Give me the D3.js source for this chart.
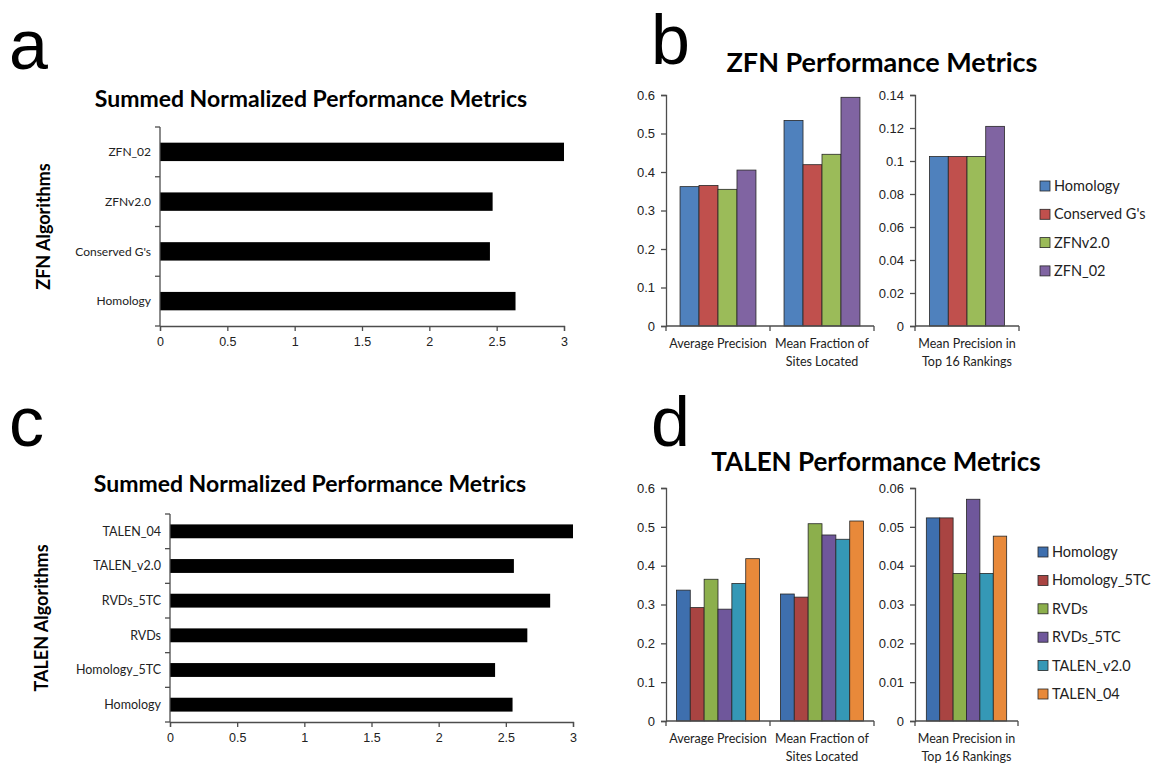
<!DOCTYPE html>
<html>
<head>
<meta charset="utf-8">
<script src="https://cdn.jsdelivr.net/npm/d3@7"></script>
<style>
  body { margin: 0; background: #fff; }
  svg { font-family: Lato, "Open Sans", sans-serif; }
</style>
</head>
<body>
<svg id="fig" width="1158" height="763"></svg>
<script>
// ---- data ----
const zfnAlgorithms = ["Homology", "Conserved G's", "ZFNv2.0", "ZFN_02"];
const zfnSummed = [2.64, 2.45, 2.47, 3.0];

const talenAlgorithms = ["Homology", "Homology_5TC", "RVDs", "RVDs_5TC", "TALEN_v2.0", "TALEN_04"];
const talenSummed = [2.55, 2.42, 2.66, 2.83, 2.56, 3.0];

const summedTicks = [0, 0.5, 1, 1.5, 2, 2.5, 3];

const metricLabels = [["Average Precision"], ["Mean Fraction of", "Sites Located"]];
const top16Label = ["Mean Precision in", "Top 16 Rankings"];

const zfnAvgPrecision = [0.362, 0.365, 0.355, 0.405];
const zfnFractionLocated = [0.534, 0.419, 0.446, 0.594];
const zfnTop16 = [0.1027, 0.1027, 0.1027, 0.121];

const talenAvgPrecision = [0.337, 0.292, 0.365, 0.288, 0.354, 0.418];
const talenFractionLocated = [0.327, 0.319, 0.508, 0.479, 0.468, 0.515];
const talenTop16 = [0.0523, 0.0523, 0.038, 0.0571, 0.038, 0.0476];

const zfnColors = ["#4f81bd", "#c0504d", "#9bbb59", "#8064a2"];
const talenColors = ["#3e6fae", "#a94442", "#8caf4c", "#6f579b", "#3598b6", "#e8893a"];

const svg = d3.select("#fig");
const axisColor = "#4d4d4d";
const fmt = d => +d.toFixed(2);

// panel letters
[["a", 9, 69], ["b", 651, 64], ["c", 9, 446], ["d", 651, 446]].forEach(([t, x, y]) => {
    svg.append("text").attr("x", x).attr("y", y)
        .attr("font-family", "'Liberation Sans', sans-serif")
        .attr("font-size", 70).attr("fill", "#000").text(t);
});

// horizontal summed chart (panels a and c)
function draw_summed(opt) {
    const g = svg.append("g");
    const x = d3.scaleLinear().domain([0, 3]).range([opt.left, opt.right]);
    const y = d3.scaleBand().domain(opt.cats.slice().reverse())
        .range([opt.top, opt.bottom]).paddingInner(opt.pad).paddingOuter(opt.pad / 2);

    g.append("text").attr("x", opt.titleX).attr("y", opt.titleY)
        .attr("text-anchor", "middle").attr("font-size", 23).attr("font-weight", "bold")
        .text("Summed Normalized Performance Metrics");

    g.append("text")
        .attr("transform", `translate(${opt.labelX},${(opt.top + opt.bottom) / 2}) rotate(-90)`)
        .attr("text-anchor", "middle").attr("font-size", 18).attr("font-weight", "bold")
        .text(opt.axisLabel);

    g.selectAll("rect.bar")
        .data(opt.cats.map((c, i) => ({c, v: opt.values[i]})))
        .join("rect").attr("class", "bar")
        .attr("x", x(0)).attr("y", d => y(d.c))
        .attr("width", d => x(d.v) - x(0)).attr("height", y.bandwidth())
        .attr("fill", "#000");

    const xAxis = g.append("g").attr("transform", `translate(0,${opt.bottom})`)
        .call(d3.axisBottom(x).tickValues(summedTicks).tickFormat(fmt).tickSize(5).tickPadding(6));
    xAxis.selectAll("text").attr("font-size", 12.5).attr("fill", "#222");

    // category axis with ticks at the band boundaries
    const yAxis = g.append("g");
    yAxis.append("line").attr("x1", x(0)).attr("x2", x(0))
        .attr("y1", opt.top).attr("y2", opt.bottom);
    yAxis.selectAll("line.tk").data(d3.range(opt.cats.length + 1))
        .join("line").attr("class", "tk")
        .attr("x1", x(0) - 5).attr("x2", x(0))
        .attr("y1", i => opt.top + i * y.step()).attr("y2", i => opt.top + i * y.step());
    yAxis.selectAll("text").data(opt.cats).join("text")
        .attr("x", x(0) - 9).attr("y", d => y(d) + y.bandwidth() / 2)
        .attr("dy", "0.35em").attr("text-anchor", "end")
        .attr("font-size", opt.catFont).attr("fill", "#222").text(d => d);

    g.selectAll(".domain, line").attr("stroke", axisColor).attr("stroke-width", 1.3);
}

// grouped column chart (panels b and d)
function draw_grouped(opt) {
    const g = svg.append("g");
    g.append("text").attr("x", opt.titleX).attr("y", opt.titleY)
        .attr("text-anchor", "middle").attr("font-size", opt.titleSize).attr("font-weight", "bold")
        .text(opt.title);

    function column_chart(left, right, maxV, tickVals, groups, series, pad) {
        const y = d3.scaleLinear().domain([0, maxV]).range([opt.bottom, opt.top]);
        const x0 = d3.scaleBand().domain(d3.range(groups.length)).range([left, right])
            .paddingInner(pad).paddingOuter(pad / 2);
        const x1 = d3.scaleBand().domain(d3.range(opt.names.length)).range([0, x0.bandwidth()]);

        const cg = g.append("g");
        series.forEach((vals, gi) => {
            cg.selectAll(null).data(vals).join("rect")
                .attr("x", (d, i) => x0(gi) + x1(i)).attr("y", d => y(d))
                .attr("width", x1.bandwidth()).attr("height", d => y(0) - y(d))
                .attr("fill", (d, i) => opt.colors[i])
                .attr("stroke", "#262626").attr("stroke-width", 0.8);
        });

        const ya = cg.append("g").attr("transform", `translate(${left},0)`)
            .call(d3.axisLeft(y).tickValues(tickVals).tickFormat(fmt).tickSize(5).tickPadding(6));
        ya.selectAll("text").attr("font-size", 13).attr("fill", "#222");

        const xa = cg.append("g");
        xa.append("line").attr("x1", left).attr("x2", right)
            .attr("y1", opt.bottom).attr("y2", opt.bottom);
        xa.selectAll("line.tk").data(d3.range(groups.length + 1)).join("line").attr("class", "tk")
            .attr("x1", i => left + i * x0.step()).attr("x2", i => left + i * x0.step())
            .attr("y1", opt.bottom).attr("y2", opt.bottom + 5);
        groups.forEach((lines, gi) => {
            const t = xa.append("text").attr("x", x0(gi) + x0.bandwidth() / 2)
                .attr("y", opt.bottom + 22).attr("text-anchor", "middle")
                .attr("font-size", 12.5).attr("fill", "#222");
            lines.forEach((l, li) => t.append("tspan")
                .attr("x", x0(gi) + x0.bandwidth() / 2).attr("dy", li ? 18 : 0).text(l));
        });
        cg.selectAll(".domain, line").attr("stroke", axisColor).attr("stroke-width", 1.3);
    }

    column_chart(opt.leftA, opt.rightA, 0.6, d3.ticks(0, 0.6, 6), metricLabels,
        [opt.avgPrecision, opt.fractionLocated], opt.pad);
    column_chart(opt.leftB, opt.rightB, opt.maxB, opt.ticksB, [top16Label], [opt.top16], opt.padB);

    const lg = g.append("g").attr("transform", `translate(${opt.legendX},${opt.legendY})`);
    opt.names.forEach((n, i) => {
        const row = lg.append("g").attr("transform", `translate(0,${i * opt.legendStep})`);
        row.append("rect").attr("x", 0).attr("y", -5).attr("width", 10).attr("height", 10)
            .attr("fill", opt.colors[i]).attr("stroke", "#262626").attr("stroke-width", 0.8);
        row.append("text").attr("x", 14).attr("y", 0).attr("dy", "0.35em")
            .attr("font-size", 14.5).attr("fill", "#222").text(n);
    });
}

draw_summed({
    cats: zfnAlgorithms, values: zfnSummed, axisLabel: "ZFN Algorithms",
    left: 160, right: 564, top: 127, bottom: 326, pad: 0.63, catFont: 12,
    titleX: 311, titleY: 107, labelX: 50
});

draw_summed({
    cats: talenAlgorithms, values: talenSummed, axisLabel: "TALEN Algorithms",
    left: 170, right: 573, top: 514, bottom: 722, pad: 0.6, catFont: 12.5,
    titleX: 310, titleY: 492, labelX: 48
});

draw_grouped({
    title: "ZFN Performance Metrics", titleX: 882, titleY: 72, titleSize: 27,
    names: zfnAlgorithms, colors: zfnColors, pad: 0.27, padB: 0.28,
    top: 95, bottom: 326,
    leftA: 666, rightA: 874, leftB: 915, rightB: 1019,
    maxB: 0.14, ticksB: d3.ticks(0, 0.14, 7),
    avgPrecision: zfnAvgPrecision, fractionLocated: zfnFractionLocated, top16: zfnTop16,
    legendX: 1040, legendY: 186, legendStep: 28.3
});

draw_grouped({
    title: "TALEN Performance Metrics", titleX: 876, titleY: 471, titleSize: 26,
    names: talenAlgorithms, colors: talenColors, pad: 0.2, padB: 0.22,
    top: 488, bottom: 721,
    leftA: 666, rightA: 874, leftB: 915, rightB: 1018,
    maxB: 0.06, ticksB: d3.ticks(0, 0.06, 6),
    avgPrecision: talenAvgPrecision, fractionLocated: talenFractionLocated, top16: talenTop16,
    legendX: 1038, legendY: 552, legendStep: 28.4
});
</script>
</body>
</html>
